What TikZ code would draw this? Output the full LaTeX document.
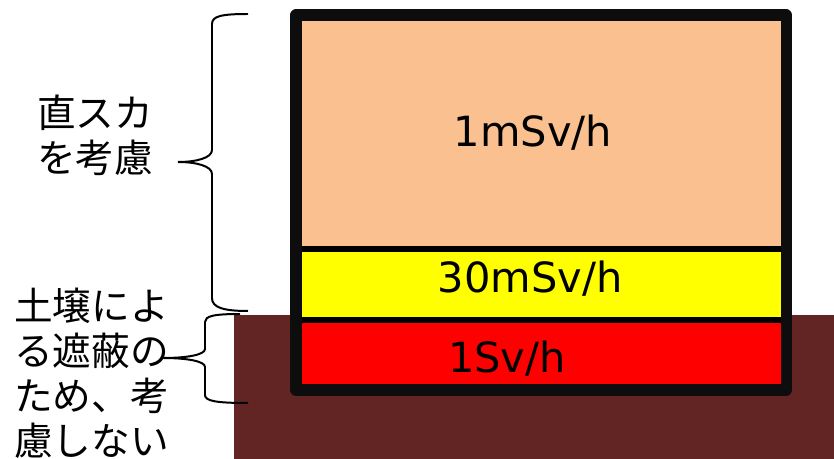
\documentclass[tikz,border=0pt]{standalone}
\usepackage{fontspec}
\setmainfont{DejaVu Sans}
\newfontfamily\jpfont{Noto Sans CJK JP}
\definecolor{soil}{HTML}{632523}
\definecolor{skyorange}{HTML}{FAC090}
\definecolor{midyellow}{HTML}{FFFF00}
\definecolor{hotred}{HTML}{FF0000}
\definecolor{framedark}{HTML}{0D0D0D}

\begin{document}
\begin{tikzpicture}[x=0.03cm, y=-0.03cm,
    bracket/.style={draw=black, line width=1.7pt},
    divider/.style={draw=black, line width=4.7pt},
    frame/.style={draw=framedark, line width=9.4pt, line join=round},
    dose/.style={font=\fontsize{35.5}{40}\selectfont, inner sep=0pt, anchor=base},
    note/.style={font={\jpfont\fontsize{33}{38.4}\selectfont}, align=left, inner sep=0pt, anchor=west}
  ]
    \useasboundingbox (0,0) rectangle (834,459);
    \draw[bracket] (248,14) .. controls (222,14) and (212,16) .. (212,24) -- (212,150)
      .. controls (212,158) and (196,162) .. (178,162) .. controls (196,162) and (212,166) .. (212,174)
      -- (212,298) .. controls (212,307) and (222,311) .. (248,311);
    \fill[soil] (234,315) rectangle (834,459);
    \draw[bracket] (240,314) .. controls (214,314) and (205,316) .. (205,322) -- (205,349)
      .. controls (205,355) and (186,358) .. (163,358) .. controls (186,358) and (205,361) .. (205,367)
      -- (205,395) .. controls (205,401) and (216,403) .. (248,403);
    \fill[skyorange] (296,15) rectangle (786,249);
    \fill[midyellow] (296,249) rectangle (786,320);
    \fill[hotred] (296,320) rectangle (786,390);
    \draw[divider] (296,249) -- (786,249);
    \draw[divider] (296,320) -- (786,320);
    \draw[frame] (296,15) rectangle (786,390);
    \node[dose] (low) at (533,147) {1mSv/h};
    \node[dose] (mid) at (530,293) {30mSv/h};
    \node[dose] (high) at (507,373) {1Sv/h};
    \node[note] (sky) at (37,135) {直スカ\\を考慮};
    \node[note] (shield) at (14,373) {土壌によ\\る遮蔽の\\ため、考\\慮しない};
  \end{tikzpicture}
\end{document}
